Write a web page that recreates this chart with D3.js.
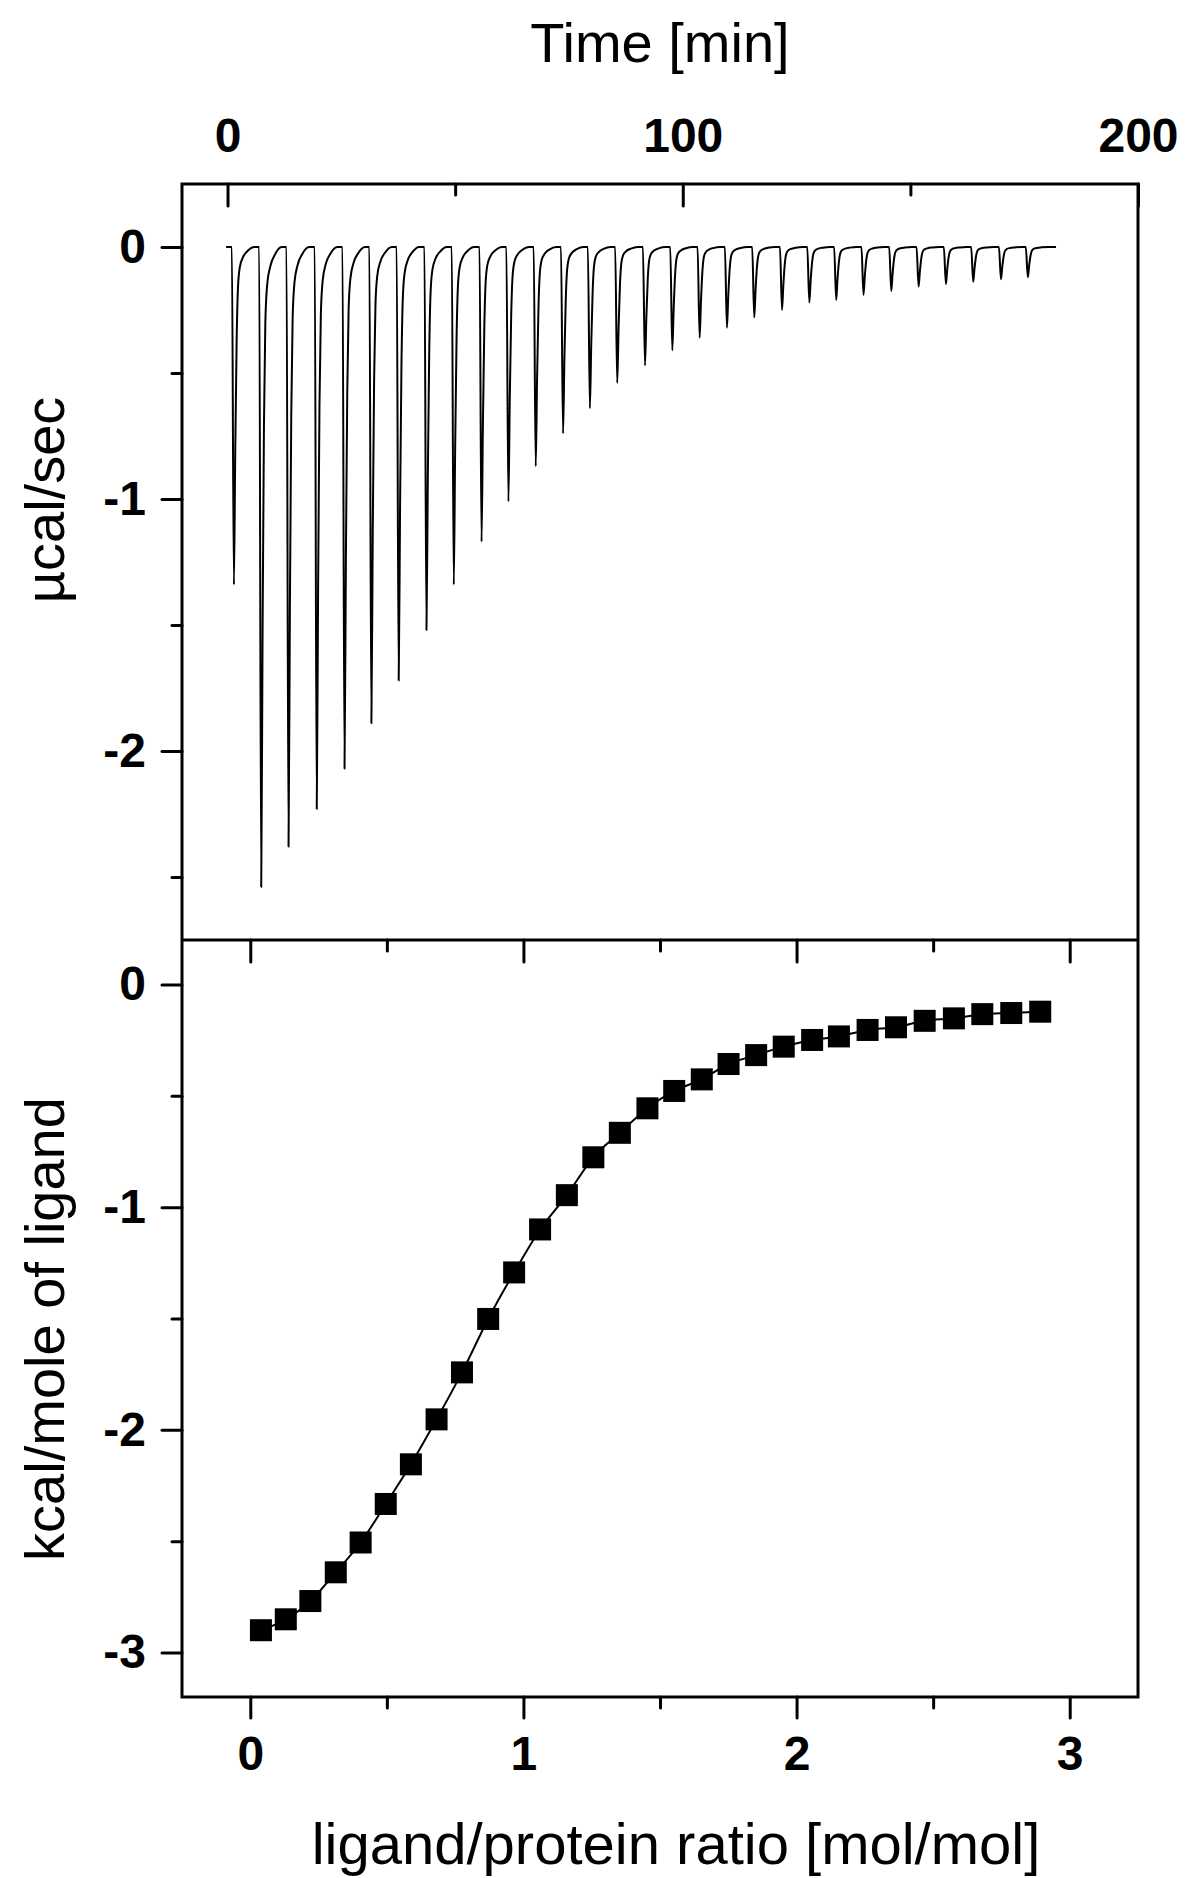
<!DOCTYPE html>
<meta charset="utf-8">
<script src="https://d3js.org/d3.v7.min.js"></script>
<style>
body { margin: 0; background: #fff; }
svg { display: block; }
.tick text { font-family: "Liberation Sans", Arial, sans-serif; font-weight: bold; font-size: 48px; fill: #000; }
.tick line { stroke: #000; stroke-width: 3px; }
.title { font-family: "Liberation Sans", Arial, sans-serif; font-size: 56px; fill: #000; }
</style>
<body>
<div class="chart"></div>
<script>

// ---- data ----
// raw thermogram: injection peaks (minimum time in min, heat rate in µcal/sec)
var peakTimes = [1.4, 7.4, 13.4, 19.6, 25.7, 31.6, 37.6, 43.7, 49.7, 55.8,
                 61.7, 67.7, 73.7, 79.6, 85.6, 91.7, 97.7, 103.7, 109.7, 115.7,
                 121.8, 127.8, 133.7, 139.7, 145.8, 151.8, 157.8, 163.8, 169.9, 175.8];
var peakDepths = [-1.34, -2.54, -2.38, -2.23, -2.07, -1.89, -1.72, -1.52, -1.34, -1.17,
                  -1.01, -0.87, -0.74, -0.64, -0.54, -0.47, -0.41, -0.36, -0.32, -0.28,
                  -0.25, -0.22, -0.21, -0.19, -0.175, -0.157, -0.147, -0.138, -0.128, -0.12];
// shape of one peak: offset from minimum (min) and fraction of depth
var peakOffsets   = [-0.45, 0, 0.3, 0.6, 0.9, 1.3, 2.0, 3.0, 4.5];
var peakFractions = [0, 1, 0.6, 0.28, 0.12, 0.06, 0.03, 0.012, 0];
var traceStart = -0.3, traceEnd = 182;

// integrated heats
var ratio = [0.039, 0.130, 0.220, 0.313, 0.404, 0.496, 0.588, 0.682, 0.775, 0.871,
             0.966, 1.061, 1.159, 1.256, 1.353, 1.454, 1.552, 1.653, 1.751, 1.852,
             1.953, 2.057, 2.155, 2.260, 2.364, 2.469, 2.576, 2.680, 2.786, 2.892];
var enthalpy = [-2.900, -2.851, -2.769, -2.640, -2.506, -2.333, -2.155, -1.953, -1.742, -1.502,
                -1.293, -1.100, -0.946, -0.776, -0.666, -0.556, -0.478, -0.426, -0.357, -0.317,
                -0.279, -0.249, -0.233, -0.204, -0.192, -0.163, -0.152, -0.133, -0.128, -0.122];

var timeTicks = [0, 100, 200], timeMinor = [50, 150];
var rateTicks = [0, -1, -2], rateMinor = [-0.5, -1.5, -2.5];
var ratioTicks = [0, 1, 2, 3], ratioMinor = [0.5, 1.5, 2.5];
var heatTicks = [0, -1, -2, -3], heatMinor = [-0.5, -1.5, -2.5];

// ---- layout ----
var width = 1200, height = 1878,
    plotL = 182, plotR = 1138, plotT = 184, plotM = 940, plotB = 1697;

var svg = d3.select(".chart").append("svg")
    .attr("width", width)
    .attr("height", height);

var x1 = d3.scaleLinear().domain([-10, 200]).range([plotL, plotR]);
var y1 = d3.scaleLinear().domain([-2.75, 0.25]).range([plotM, plotT]);
var x2 = d3.scaleLinear().domain([-0.25, 3.25]).range([plotL, plotR]);
var y2 = d3.scaleLinear().domain([-3.2, 0.2]).range([plotB, plotM]);

function fmt(d) { return String(d); }

function addAxis(axis, tx, ty) {
  var g = svg.append("g")
      .attr("transform", "translate(" + tx + "," + ty + ")")
      .call(axis);
  g.select(".domain").remove();
  g.selectAll(".tick line").attr("stroke-linecap", "round");
  return g;
}

// top panel axes
addAxis(d3.axisTop(x1).tickValues(timeTicks).tickSize(-22).tickPadding(32).tickFormat(fmt), 0, plotT);
addAxis(d3.axisTop(x1).tickValues(timeMinor).tickSize(-11).tickFormat(""), 0, plotT);
addAxis(d3.axisLeft(y1).tickValues(rateTicks).tickSize(20).tickPadding(16).tickFormat(fmt), plotL, 0);
addAxis(d3.axisLeft(y1).tickValues(rateMinor).tickSize(10).tickFormat(""), plotL, 0);

// bottom panel axes
addAxis(d3.axisTop(x2).tickValues(ratioTicks).tickSize(-22).tickFormat(""), 0, plotM);
addAxis(d3.axisTop(x2).tickValues(ratioMinor).tickSize(-11).tickFormat(""), 0, plotM);
addAxis(d3.axisBottom(x2).tickValues(ratioTicks).tickSize(21).tickPadding(18).tickFormat(fmt), 0, plotB);
addAxis(d3.axisBottom(x2).tickValues(ratioMinor).tickSize(11).tickFormat(""), 0, plotB);
addAxis(d3.axisLeft(y2).tickValues(heatTicks).tickSize(20).tickPadding(16).tickFormat(fmt), plotL, 0);
addAxis(d3.axisLeft(y2).tickValues(heatMinor).tickSize(10).tickFormat(""), plotL, 0);

// thermogram trace
var trace = [[traceStart, 0]];
peakTimes.forEach(function(t, i) {
  peakOffsets.forEach(function(o, j) {
    trace.push([t + o, peakDepths[i] * peakFractions[j]]);
  });
});
trace.push([traceEnd, 0]);

svg.append("path")
    .datum(trace)
    .attr("fill", "none")
    .attr("stroke", "#000")
    .attr("stroke-width", 2)
    .attr("stroke-linejoin", "round")
    .attr("d", d3.line()
        .x(function(d) { return x1(d[0]); })
        .y(function(d) { return y1(d[1]); })
        .curve(d3.curveMonotoneX));

// integrated heats: fit line and squares
var pts = ratio.map(function(r, i) { return [r, enthalpy[i]]; });

svg.append("path")
    .datum(pts)
    .attr("fill", "none")
    .attr("stroke", "#000")
    .attr("stroke-width", 2)
    .attr("d", d3.line()
        .x(function(d) { return x2(d[0]); })
        .y(function(d) { return y2(d[1]); })
        .curve(d3.curveMonotoneX));

svg.selectAll(".sq")
    .data(pts)
  .enter().append("rect")
    .attr("class", "sq")
    .attr("x", function(d) { return x2(d[0]) - 11; })
    .attr("y", function(d) { return y2(d[1]) - 11; })
    .attr("width", 22)
    .attr("height", 22)
    .attr("fill", "#000");

// frame and divider
svg.append("rect")
    .attr("x", plotL).attr("y", plotT)
    .attr("width", plotR - plotL).attr("height", plotB - plotT)
    .attr("fill", "none").attr("stroke", "#000").attr("stroke-width", 3);
svg.append("line")
    .attr("x1", plotL).attr("x2", plotR)
    .attr("y1", plotM).attr("y2", plotM)
    .attr("stroke", "#000").attr("stroke-width", 3);

// axis titles
svg.append("text").attr("class", "title")
    .attr("x", (plotL + plotR) / 2).attr("y", 62)
    .attr("text-anchor", "middle")
    .text("Time [min]");

svg.append("text").attr("class", "title")
    .attr("x", 676).attr("y", 1864)
    .attr("text-anchor", "middle")
    .style("font-size", "58px")
    .text("ligand/protein ratio [mol/mol]");

svg.append("text").attr("class", "title")
    .attr("transform", "translate(64,500) rotate(-90)")
    .attr("text-anchor", "middle")
    .text("µcal/sec");

svg.append("text").attr("class", "title")
    .attr("transform", "translate(64,1329) rotate(-90)")
    .attr("text-anchor", "middle")
    .text("kcal/mole of ligand");

</script>
</body>
